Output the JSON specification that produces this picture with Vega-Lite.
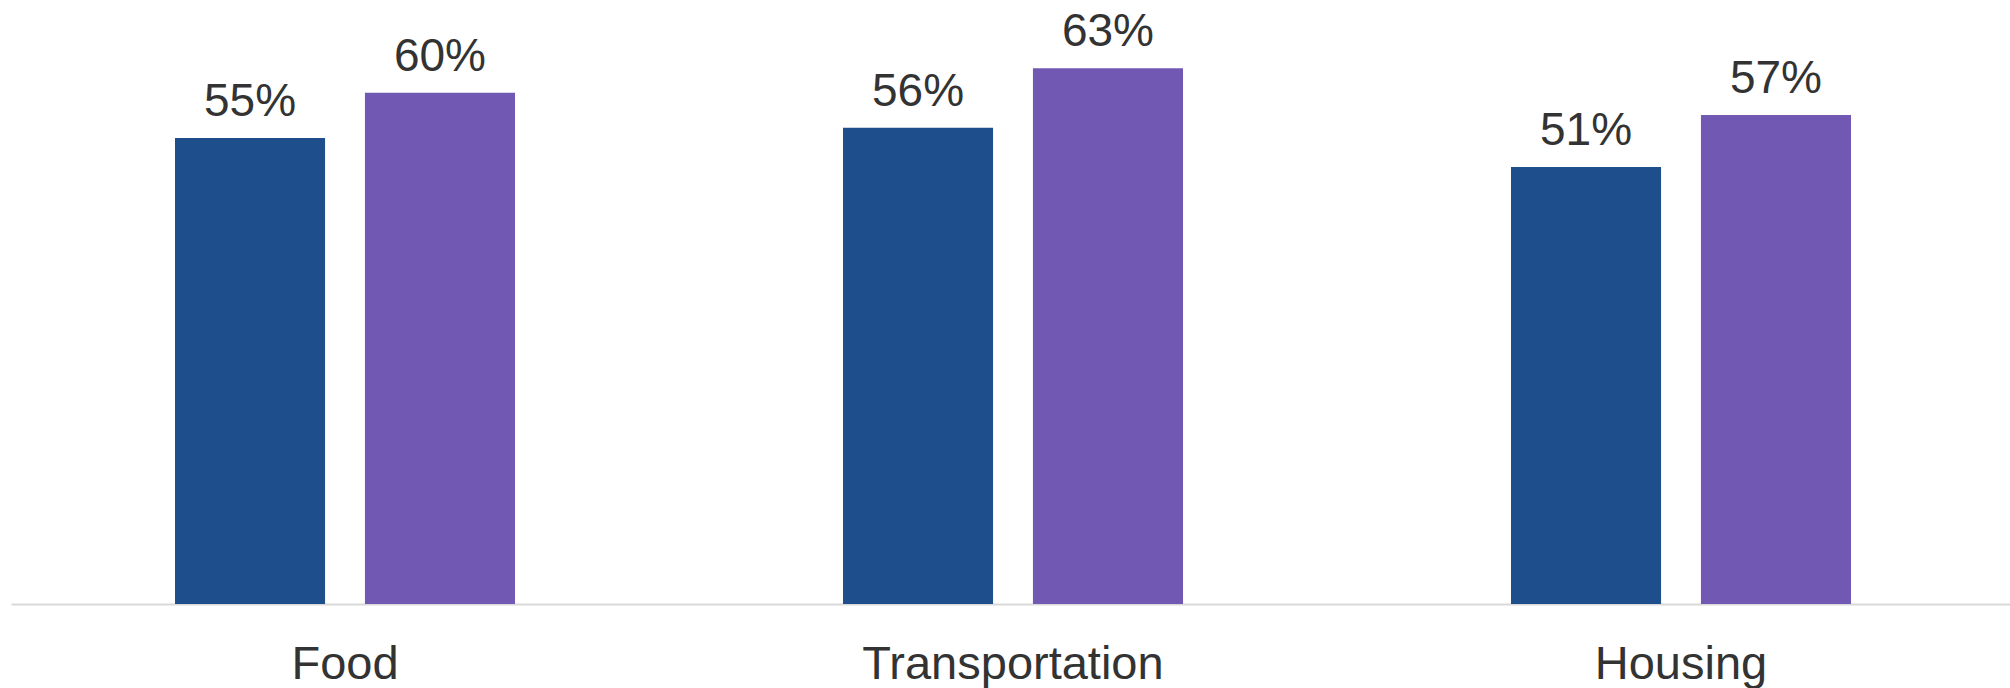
{
  "$schema": "https://vega.github.io/schema/vega-lite/v6.json",
  "autosize": {"type": "none"},
  "width": 2004,
  "height": 604,
  "padding": {"left": 11, "top": 0, "right": 0, "bottom": 84},
  "background": "white",
  "config": {"view": {"stroke": null}, "font": "Liberation Sans"},
  "data": {
    "values": [
      {"category": "Food", "series": "A", "value": 0.547, "label": "55%"},
      {"category": "Food", "series": "B", "value": 0.600, "label": "60%"},
      {"category": "Transportation", "series": "A", "value": 0.559, "label": "56%"},
      {"category": "Transportation", "series": "B", "value": 0.629, "label": "63%"},
      {"category": "Housing", "series": "A", "value": 0.513, "label": "51%"},
      {"category": "Housing", "series": "B", "value": 0.574, "label": "57%"}
    ]
  },
  "encoding": {
    "x": {
      "field": "category", "type": "nominal", "sort": null, "title": null,
      "scale": {"paddingInner": 0.491, "paddingOuter": 0.2455},
      "axis": {
        "labelAngle": 0, "labelFontSize": 47, "labelColor": "#333333",
        "labelFont": "Liberation Sans", "ticks": false, "tickSize": 0,
        "labelBaseline": "alphabetic", "labelPadding": 74, "labelLimit": 0,
        "domainColor": "#d9d9d9", "domainWidth": 2, "grid": false
      }
    },
    "xOffset": {
      "field": "series", "type": "nominal",
      "scale": {"paddingInner": 0.21, "paddingOuter": 0}
    },
    "y": {
      "field": "value", "type": "quantitative", "axis": null,
      "scale": {"domain": [0, 0.709], "nice": false, "zero": true}
    }
  },
  "layer": [
    {
      "mark": {"type": "bar"},
      "encoding": {
        "color": {
          "field": "series", "type": "nominal", "legend": null,
          "scale": {"domain": ["A", "B"], "range": ["#1f4e8c", "#7058b3"]}
        }
      }
    },
    {
      "mark": {"type": "text", "baseline": "alphabetic", "dy": -22, "fontSize": 46, "color": "#333333", "font": "Liberation Sans"},
      "encoding": {"text": {"field": "label", "type": "nominal"}}
    }
  ]
}
